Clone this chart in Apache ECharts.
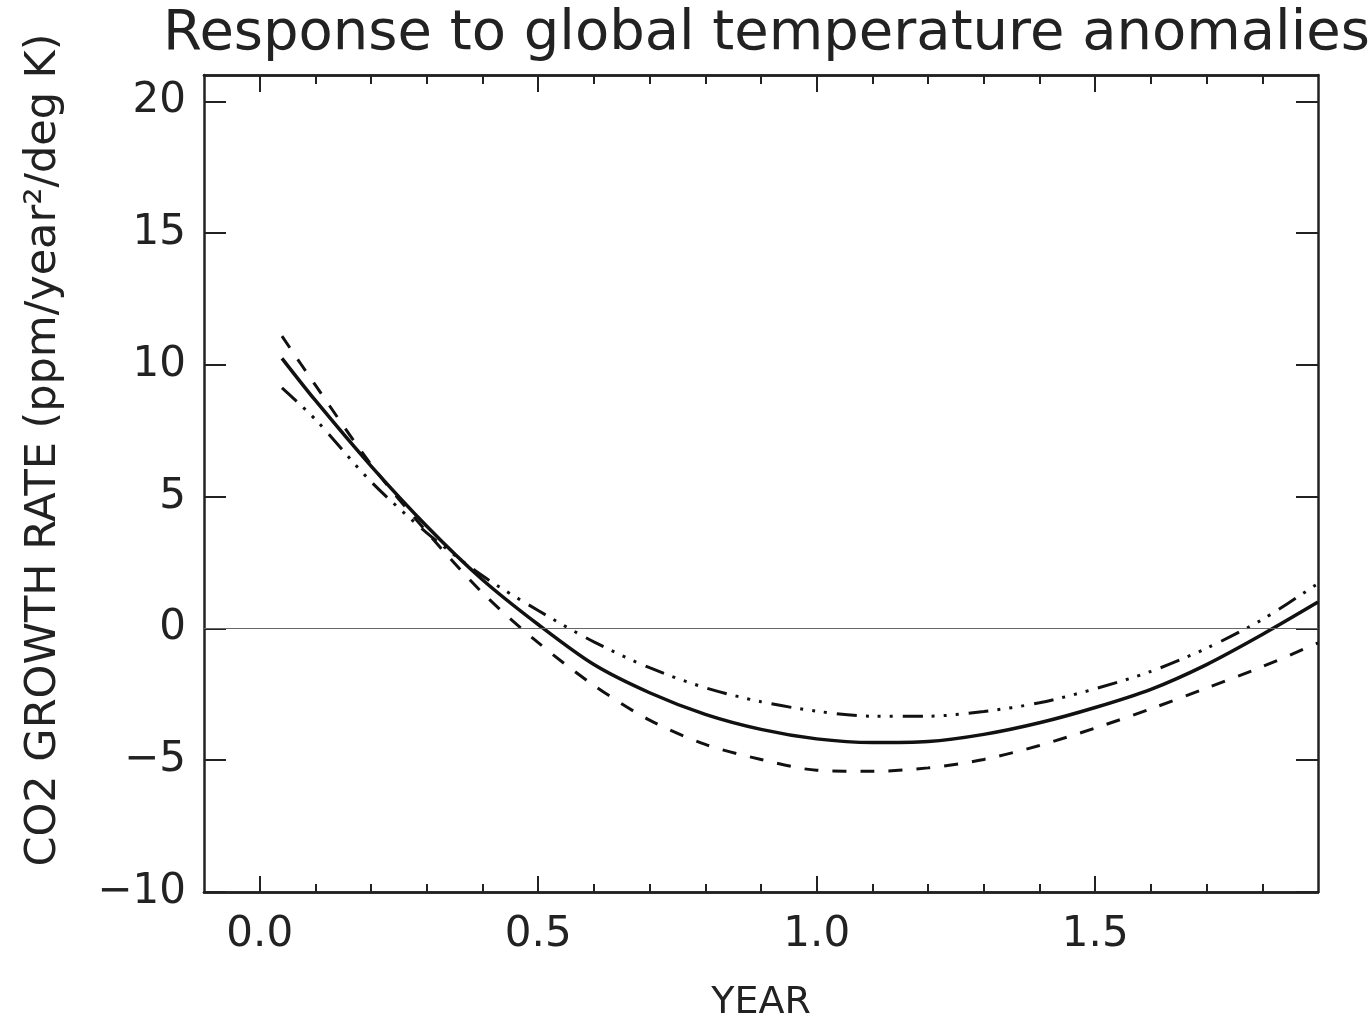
<!DOCTYPE html>
<html>
<head>
<meta charset="utf-8">
<script src="https://cdn.jsdelivr.net/npm/echarts@6/dist/echarts.min.js"></script>
<style>
  html, body { margin: 0; padding: 0; background: #fff; }
  #chart { width: 1368px; height: 1016px; }
</style>
</head>
<body>
<div id="chart"></div>
<script>
// values
var years = [0.04, 0.1, 0.2, 0.3, 0.4, 0.5, 0.6, 0.7, 0.8, 0.9, 1.0, 1.1, 1.2, 1.3, 1.4, 1.5, 1.6, 1.7, 1.8, 1.9];
var solidRate = [10.25, 8.65, 6.16, 3.88, 1.85, 0.15, -1.37, -2.44, -3.26, -3.83, -4.19, -4.33, -4.29, -4.02, -3.58, -3.0, -2.31, -1.37, -0.23, 1.0];
var dashedRate = [11.09, 9.23, 6.22, 3.66, 1.35, -0.54, -2.16, -3.48, -4.4, -4.97, -5.38, -5.42, -5.29, -4.97, -4.44, -3.78, -3.05, -2.26, -1.45, -0.55];
var dotDashRate = [9.13, 7.93, 5.57, 3.63, 2.0, 0.68, -0.51, -1.49, -2.25, -2.78, -3.14, -3.33, -3.33, -3.15, -2.82, -2.29, -1.63, -0.75, 0.34, 1.71];

var xMajorTicks = [0.0, 0.5, 1.0, 1.5];
var xMinorTicks = [0.1, 0.2, 0.3, 0.4, 0.6, 0.7, 0.8, 0.9, 1.1, 1.2, 1.3, 1.4, 1.6, 1.7, 1.8];
var yTicks = [-10, -5, 0, 5, 10, 15, 20];

var font = 'DejaVu Sans';
var ink = '#222';

function pairs(ys) {
  return years.map(function (x, i) { return [x, ys[i]]; });
}

var chart = echarts.init(document.getElementById('chart'));

function xAxisDef(pos, ticks, len, labels) {
  return {
    type: 'value', position: pos, min: -0.1, max: 1.9,
    axisLine: { show: true, onZero: false, lineStyle: { color: ink, width: 2.5 } },
    axisTick: { show: true, inside: true, length: len, customValues: ticks, lineStyle: { color: ink, width: 2 } },
    axisLabel: labels ? {
      show: true, customValues: ticks, margin: 22, color: ink,
      fontFamily: font, fontSize: 42,
      formatter: function (v) { return v.toFixed(1); }
    } : { show: false },
    splitLine: { show: false }
  };
}

function yAxisDef(pos, labels) {
  return {
    type: 'value', position: pos, min: -10, max: 21,
    axisLine: { show: true, onZero: false, lineStyle: { color: ink, width: 2.5 } },
    axisTick: { show: true, inside: true, length: 22, customValues: yTicks, lineStyle: { color: ink, width: 2 } },
    axisLabel: labels ? {
      show: true, customValues: yTicks, margin: 18, color: ink,
      fontFamily: font, fontSize: 42,
      formatter: function (v) { return String(v).replace('-', '\u2212'); }
    } : { show: false },
    splitLine: { show: false }
  };
}

var xBottom = xAxisDef('bottom', xMajorTicks, 16, true);
xBottom.name = 'YEAR';
xBottom.nameLocation = 'middle';
xBottom.nameGap = 92;
xBottom.nameTextStyle = { fontFamily: font, fontSize: 38, color: ink };

var option = {
  backgroundColor: '#fff',
  animation: false,
  title: {
    text: 'Response to global temperature anomalies',
    left: 158, top: 1,
    textStyle: { fontFamily: font, fontSize: 56, fontWeight: 'normal', color: ink }
  },
  grid: { left: 204, right: 50, top: 75, bottom: 124, containLabel: false, outerBoundsMode: 'none' },
  xAxis: [
    xBottom,
    xAxisDef('bottom', xMinorTicks, 8, false),
    xAxisDef('top', xMajorTicks, 17, false),
    xAxisDef('top', xMinorTicks, 9, false)
  ],
  yAxis: [yAxisDef('left', true), yAxisDef('right', false)],
  graphic: [{
    type: 'text',
    x: 44, y: 450, rotation: Math.PI / 2,
    style: {
      text: 'CO2 GROWTH RATE (ppm/year\u00b2/deg K)',
      fontFamily: font, fontSize: 43, fill: ink,
      align: 'center', verticalAlign: 'middle'
    }
  }],
  series: [
    {
      name: 'solid', type: 'line', smooth: 0.3, showSymbol: false,
      data: pairs(solidRate),
      lineStyle: { color: '#111', width: 3.5 },
      markLine: {
        silent: true, symbol: 'none', label: { show: false },
        lineStyle: { color: '#666', width: 1.2, type: 'solid' },
        data: [{ yAxis: 0 }]
      },
      z: 3
    },
    {
      name: 'dashed', type: 'line', smooth: 0.3, showSymbol: false,
      data: pairs(dashedRate),
      lineStyle: { color: '#111', width: 3, type: [14, 14] }
    },
    {
      name: 'dash-dot', type: 'line', smooth: 0.3, showSymbol: false,
      data: pairs(dotDashRate),
      lineStyle: { color: '#111', width: 3, type: [20, 9, 3, 9, 3, 9, 3, 10] }
    }
  ]
};

chart.setOption(option);
</script>
</body>
</html>
